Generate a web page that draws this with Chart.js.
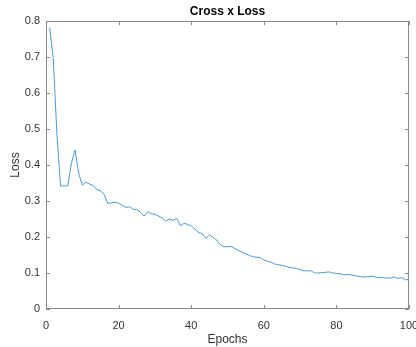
<!DOCTYPE html>
<html>
<head>
<meta charset="utf-8">
<script src="https://cdn.jsdelivr.net/npm/chart.js@4/dist/chart.umd.min.js"></script>
<style>
  html, body { margin: 0; padding: 0; background: #ffffff; }
  #wrap { width: 416px; height: 347px; }
</style>
</head>
<body>
<div id="wrap"><canvas id="c" width="416" height="347"></canvas></div>
<script>
// Training loss per epoch
const epochs = Array.from({ length: 100 }, (_, i) => i + 1);
const loss = [
  0.782, 0.696, 0.488, 0.342, 0.342, 0.342, 0.405, 0.442, 0.377, 0.344,
  0.352, 0.347, 0.343, 0.332, 0.328, 0.319, 0.293, 0.295, 0.297, 0.294,
  0.288, 0.282, 0.284, 0.277, 0.276, 0.269, 0.258, 0.270, 0.265, 0.263,
  0.258, 0.253, 0.244, 0.250, 0.246, 0.252, 0.231, 0.238, 0.235, 0.231,
  0.223, 0.212, 0.210, 0.196, 0.206, 0.199, 0.192, 0.179, 0.173, 0.173,
  0.174, 0.168, 0.163, 0.158, 0.154, 0.149, 0.145, 0.144, 0.143, 0.136,
  0.133, 0.130, 0.125, 0.123, 0.121, 0.119, 0.116, 0.114, 0.113, 0.109,
  0.106, 0.106, 0.106, 0.100, 0.100, 0.101, 0.102, 0.103, 0.100, 0.099,
  0.098, 0.095, 0.096, 0.095, 0.093, 0.091, 0.089, 0.089, 0.090, 0.091,
  0.088, 0.087, 0.087, 0.086, 0.086, 0.089, 0.085, 0.087, 0.081, 0.082
];
const xTicks = [0, 20, 40, 60, 80, 100];
const yTicks = [0, 0.1, 0.2, 0.3, 0.4, 0.5, 0.6, 0.7, 0.8];

const AXIS_COLOR = '#8a8a8a';
const TEXT_COLOR = '#333333';
const FONT = '"Liberation Sans", Arial, Helvetica, sans-serif';

// Box around the plot plus inward tick marks on all four sides
const boxTicks = {
  id: 'boxTicks',
  afterDatasetsDraw(chart) {
    const { ctx, chartArea: a, scales: { x, y } } = chart;
    const len = 4;
    ctx.save();
    ctx.strokeStyle = AXIS_COLOR;
    ctx.lineWidth = 1;
    ctx.beginPath();
    ctx.rect(Math.round(a.left) + 0.5, Math.round(a.top) + 0.5,
             Math.round(a.right - a.left) - 1, Math.round(a.bottom - a.top) - 1);
    xTicks.forEach(v => {
      const px = Math.round(x.getPixelForValue(v)) + 0.5;
      ctx.moveTo(px, a.bottom); ctx.lineTo(px, a.bottom - len);
      ctx.moveTo(px, a.top); ctx.lineTo(px, a.top + len);
    });
    yTicks.forEach(v => {
      const py = Math.round(y.getPixelForValue(v)) + 0.5;
      ctx.moveTo(a.left, py); ctx.lineTo(a.left + len, py);
      ctx.moveTo(a.right, py); ctx.lineTo(a.right - len, py);
    });
    ctx.stroke();
    ctx.restore();
  }
};

new Chart(document.getElementById('c'), {
  type: 'line',
  data: {
    datasets: [{
      data: epochs.map((e, i) => ({ x: e, y: loss[i] })),
      borderColor: '#4a9ad6',
      borderWidth: 1,
      pointRadius: 0,
      tension: 0,
      fill: false
    }]
  },
  options: {
    responsive: false,
    animation: false,
    layout: { padding: { left: 0, right: 7, top: 0, bottom: 0 } },
    plugins: {
      legend: { display: false },
      tooltip: { enabled: false },
      title: {
        display: true,
        text: 'Cross x Loss',
        fullSize: false,
        color: '#000000',
        font: { family: FONT, size: 12, weight: 'bold' },
        padding: { top: 4.5, bottom: 2.1 }
      }
    },
    scales: {
      x: {
        type: 'linear',
        min: 0,
        max: 100,
        afterBuildTicks(s) { s.ticks = xTicks.map(v => ({ value: v })); },
        afterFit(s) { s.height = 38; s.paddingLeft = 0; s.paddingRight = 0; },
        grid: { display: false, drawTicks: false },
        border: { display: false },
        ticks: {
          color: TEXT_COLOR,
          font: { family: FONT, size: 11 },
          padding: 10,
          maxRotation: 0
        },
        title: {
          display: true,
          text: 'Epochs',
          color: TEXT_COLOR,
          font: { family: FONT, size: 12 },
          padding: { top: 0, bottom: 0.5 }
        }
      },
      y: {
        type: 'linear',
        min: 0,
        max: 0.8,
        afterBuildTicks(s) { s.ticks = yTicks.map(v => ({ value: v })); },
        afterFit(s) { s.width = 46; s.paddingTop = 0; s.paddingBottom = 0; },
        grid: { display: false, drawTicks: false },
        border: { display: false },
        ticks: {
          color: TEXT_COLOR,
          font: { family: FONT, size: 11 },
          padding: 6,
          callback: v => String(Math.round(v * 10) / 10)
        },
        title: {
          display: true,
          text: 'Loss',
          color: TEXT_COLOR,
          font: { family: FONT, size: 12 },
          padding: { top: 8.5, bottom: 0 }
        }
      }
    }
  },
  plugins: [boxTicks]
});
</script>
</body>
</html>
